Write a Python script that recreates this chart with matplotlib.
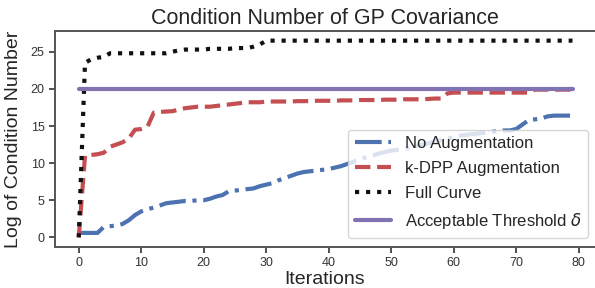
import numpy as np
import matplotlib.pyplot as plt
import seaborn as sns

sns.set_theme(style="ticks")
plt.rcParams['font.family'] = ['Liberation Sans', 'DejaVu Sans']

# Data
iterations = np.arange(80)

no_aug = [0.6, 0.6, 0.6, 0.6, 1.4, 1.5, 1.6, 1.8, 2.3, 3.0,
          3.5, 3.8, 4.0, 4.3, 4.6, 4.7, 4.8, 4.9, 4.9, 5.0,
          5.0, 5.2, 5.5, 5.7, 6.2, 6.3, 6.4, 6.5, 6.6, 6.9,
          7.1, 7.3, 7.7, 8.0, 8.3, 8.6, 8.8, 8.9, 9.0, 9.1,
          9.2, 9.4, 9.6, 9.9, 10.2, 10.5, 10.8, 11.0, 11.3, 11.5,
          11.7, 11.8, 11.9, 12.1, 12.3, 12.5, 12.7, 12.9, 13.1, 13.3,
          13.5, 13.7, 13.8, 13.9, 14.0, 14.1, 14.2, 14.3, 14.4, 14.4,
          14.6, 15.2, 15.8, 15.9, 16.0, 16.3, 16.4, 16.4, 16.4, 16.4]

kdpp = [0.0, 11.0, 11.1, 11.2, 11.4, 12.2, 12.5, 12.8, 13.3, 14.5,
        14.6, 14.9, 16.8, 16.9, 16.95, 17.0, 17.2, 17.4, 17.5, 17.6,
        17.6, 17.6, 17.7, 17.8, 17.9, 18.0, 18.1, 18.2, 18.2, 18.2,
        18.3, 18.3, 18.3, 18.3, 18.3, 18.35, 18.35, 18.35, 18.4, 18.4,
        18.4, 18.4, 18.45, 18.45, 18.45, 18.5, 18.5, 18.5, 18.5, 18.55,
        18.55, 18.55, 18.6, 18.6, 18.6, 18.6, 18.65, 18.7, 18.7, 19.4,
        19.5, 19.5, 19.5, 19.5, 19.5, 19.5, 19.5, 19.5, 19.5, 19.5,
        19.5, 19.5, 19.5, 19.9, 19.9, 19.9, 19.9, 19.9, 19.9, 19.9]

full_curve = [0.0, 23.5, 24.0, 24.2, 24.3, 24.8, 24.8, 24.8, 24.8, 24.8,
              24.8, 24.8, 24.8, 24.8, 24.8, 25.0, 25.2, 25.3, 25.3, 25.3,
              25.3, 25.4, 25.4, 25.4, 25.4, 25.5, 25.5, 25.5, 25.7, 26.0] + [26.5] * 50

threshold = [20.0] * 80

fig = plt.figure(figsize=(5.95, 2.88), dpi=100)
ax = fig.add_axes([55 / 595, 1 - 247 / 288, 1 - 55 / 595, (247 - 31) / 288])

ax.plot(iterations, no_aug, '-.', color='#4c72b0', lw=3, label='No Augmentation')
ax.plot(iterations, kdpp, '--', color='#c44e52', lw=3, label='k-DPP Augmentation')
ax.plot(iterations, full_curve, ':', color='#111111', lw=3, label='Full Curve')
ax.plot(iterations, threshold, '-', color='#8172b2', lw=3, label=r'Acceptable Threshold $\delta$')

ax.set_xlim(-3.8, 82.6)
ax.set_ylim(-1.3, 27.8)
ax.set_xticks(range(0, 81, 10))
ax.set_yticks(range(0, 26, 5))
ax.tick_params(labelsize=9, length=4.5, width=1.2, pad=3, colors='#333333')
ax.spines['right'].set_visible(False)
for s in ['left', 'top', 'bottom']:
    ax.spines[s].set_linewidth(1.4)
    ax.spines[s].set_color('#555555')

ax.set_title('Condition Number of GP Covariance', fontsize=15.5, pad=5)
ax.set_xlabel('Iterations', fontsize=14, labelpad=1)
ax.set_ylabel('Log of Condition Number', fontsize=14, labelpad=6)

ax.legend(loc='lower right', bbox_to_anchor=(0.987, 0.042), borderaxespad=0,
          fontsize=12, framealpha=0.8, labelspacing=0.6, handlelength=2.2)

plt.savefig('out.png', dpi=100)
